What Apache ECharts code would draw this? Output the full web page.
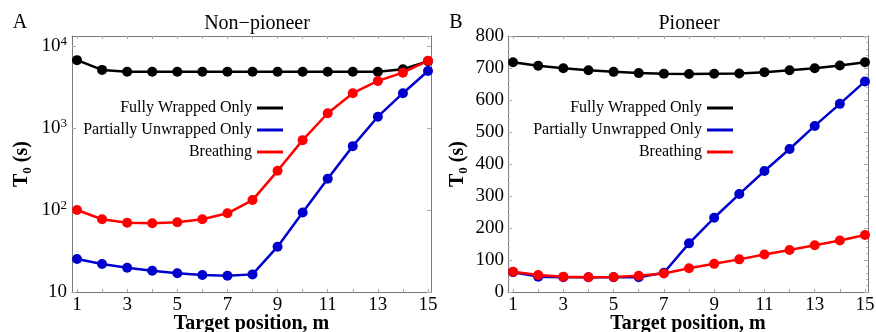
<!DOCTYPE html>
<html>
<head>
<meta charset="utf-8">
<script src="https://cdn.jsdelivr.net/npm/echarts@6/dist/echarts.min.js"></script>
<style>html,body{margin:0;padding:0;background:#fff}#c{width:876px;height:332px}</style>
</head>
<body>
<div id="c"></div>
<script>
// Target positions m
var positions = [1,2,3,4,5,6,7,8,9,10,11,12,13,14,15];
var seriesNames = ['Fully Wrapped Only','Partially Unwrapped Only','Breathing'];
var xTickValues = [1,3,5,7,9,11,13,15];
var leftYTickLabels = ['10','10^2','10^3','10^4'];
var rightYTickLabels = ['0','100','200','300','400','500','600','700','800'];

// Panel A: Non-pioneer (log scale, seconds)
var nonPioneerFully    = [6700,5100,4850,4850,4850,4850,4850,4850,4850,4850,4850,4850,4850,5200,6500];
var nonPioneerPartial  = [25.2,21.9,19.8,18.2,16.9,16.1,15.8,16.4,35.7,93,240,600,1370,2650,4950];
var nonPioneerBreath   = [100,77,70,69,71,77,91,132,300,710,1510,2650,3740,4720,6600];

// Panel B: Pioneer (linear scale, seconds)
var pioneerFully   = [718,707,699,693,688,684,682,681,682,683,687,693,699,708,718];
var pioneerPartial = [62,48,46,46,46,46,60,152,232,306,378,447,519,588,658];
var pioneerBreath  = [63,53,48,46,47,51,58,74,88,102,117,131,146,161,178];

var colors = ['#000000','#0000cc','#ff0000'];
var serif = 'Liberation Serif';
var frame = '#7a7a7a';

function pairs(vals){ return positions.map(function(x,i){ return [x, vals[i]]; }); }

function logLabel(v){
  var l = Math.log10(v), e = Math.round(l);
  if (Math.abs(l-e) > 1e-6) return '';
  var key = e===1 ? '10' : '10^'+e;
  if (leftYTickLabels.indexOf(key) < 0) return '';
  return e===1 ? '{b|10}' : '{b|10}{sup|'+e+'}';
}
function linLabel(v){
  var s = String(Math.round(v));
  return rightYTickLabels.indexOf(s)>=0 ? s : '';
}

var axisNameStyle = {
  fontFamily: serif, fontSize: 20, fontWeight: 'bold', color: '#000'
};
var yNameRich = {
  b: {fontFamily: serif, fontSize: 20, fontWeight: 'bold', color:'#000', lineHeight: 24},
  s: {fontFamily: serif, fontSize: 13, fontWeight: 'bold', color:'#000', lineHeight: 12, verticalAlign: 'bottom'}
};

function xAx(grid, pos, show){
  return {
    type: 'value', gridIndex: grid, position: pos, min: 0.8, max: 15.12,
    axisLine: {show: true, onZero: false, lineStyle: {color: frame, width: 1}},
    axisTick: {show: true, inside: true, length: 3, customValues: positions, lineStyle: {color: '#aaa'}},
    axisLabel: {show: show, margin: 4, customValues: xTickValues, fontFamily: serif, fontSize: 19, color:'#000'},
    splitLine: {show: false},
    name: show ? 'Target position, m' : '', nameLocation: 'middle', nameGap: 22, nameMoveOverlap: false,
    nameTextStyle: axisNameStyle
  };
}

var option = {
  animation: false,
  backgroundColor: '#fff',
  grid: [
    {left: 72, right: 445, top: 36, bottom: 40, outerBoundsMode: 'none', containLabel: false},
    {left: 508, right: 8, top: 36, bottom: 40, outerBoundsMode: 'none', containLabel: false}
  ],
  xAxis: [
    xAx(0,'bottom',true), xAx(0,'top',false),
    xAx(1,'bottom',true), xAx(1,'top',false)
  ],
  yAxis: [
    {
      type: 'log', logBase: 10, gridIndex: 0, position: 'left', min: 10, max: 13200,
      axisLine: {show: true, lineStyle: {color: frame}},
      axisTick: {show: true, inside: true, length: 4, lineStyle: {color: '#aaa'}},
      axisLabel: {margin: 5, formatter: logLabel, showMaxLabel: false,
        rich: {b: {fontFamily: serif, fontSize: 19, color:'#000', lineHeight: 22},
               sup: {fontFamily: serif, fontSize: 13, color:'#000', lineHeight: 12, verticalAlign: 'top'}}},
      splitLine: {show: false},
      name: '{b|T}{s|0}{b| (s)}', nameLocation: 'middle', nameGap: 38, nameRotate: 90,
      nameTextStyle: {rich: yNameRich}
    },
    {
      type: 'log', logBase: 10, gridIndex: 0, position: 'right', min: 10, max: 13200,
      axisLine: {show: true, lineStyle: {color: frame}},
      axisTick: {show: true, inside: true, length: 4, lineStyle: {color: '#aaa'}},
      axisLabel: {show: false}, splitLine: {show: false}
    },
    {
      type: 'value', gridIndex: 1, position: 'left', min: 0, max: 800, interval: 100,
      axisLine: {show: true, lineStyle: {color: frame}},
      axisTick: {show: true, inside: true, length: 4, lineStyle: {color: '#aaa'}},
      minorTick: {show: true, splitNumber: 5, length: 2, lineStyle: {color: '#bbb'}},
      axisLabel: {margin: 4, formatter: linLabel, fontFamily: serif, fontSize: 19, color: '#000'},
      splitLine: {show: false},
      name: '{b|T}{s|0}{b| (s)}', nameLocation: 'middle', nameGap: 38, nameRotate: 90,
      nameTextStyle: {rich: yNameRich}
    },
    {
      type: 'value', gridIndex: 1, position: 'right', min: 0, max: 800, interval: 100,
      axisLine: {show: true, lineStyle: {color: frame}},
      axisTick: {show: true, inside: true, length: 4, lineStyle: {color: '#aaa'}},
      minorTick: {show: true, splitNumber: 5, length: 2, lineStyle: {color: '#bbb'}},
      axisLabel: {show: false}, splitLine: {show: false}
    }
  ],
  legend: [
    {
      data: seriesNames, orient: 'vertical', align: 'right', right: 588, top: 95,
      icon: 'rect', itemWidth: 26, itemHeight: 3, itemGap: 6,
      textStyle: {fontFamily: serif, fontSize: 16, color: '#000'}, selectedMode: false
    },
    {
      data: seriesNames, orient: 'vertical', align: 'right', right: 138, top: 95,
      icon: 'rect', itemWidth: 26, itemHeight: 3, itemGap: 6,
      textStyle: {fontFamily: serif, fontSize: 16, color: '#000'}, selectedMode: false
    }
  ],
  graphic: [
    {type: 'text', x: 20, y: 23, style: {text: 'A', font: '20px "Liberation Serif"', fill: '#000', align: 'center', verticalAlign: 'middle'}},
    {type: 'text', x: 456, y: 23, style: {text: 'B', font: '20px "Liberation Serif"', fill: '#000', align: 'center', verticalAlign: 'middle'}},
    {type: 'text', x: 257, y: 24, style: {text: 'Non\u2212pioneer', font: '20px "Liberation Serif"', fill: '#000', align: 'center', verticalAlign: 'middle'}},
    {type: 'text', x: 689, y: 24, style: {text: 'Pioneer', font: '20px "Liberation Serif"', fill: '#000', align: 'center', verticalAlign: 'middle'}}
  ],
  series: []
};

var leftData = [nonPioneerFully, nonPioneerPartial, nonPioneerBreath];
var rightData = [pioneerFully, pioneerPartial, pioneerBreath];
for (var i = 0; i < 3; i++) {
  option.series.push({
    name: seriesNames[i], type: 'line', xAxisIndex: 0, yAxisIndex: 0,
    data: pairs(leftData[i]), symbol: 'circle', symbolSize: 10,
    lineStyle: {color: colors[i], width: 2.5}, itemStyle: {color: colors[i]}, z: 2 + i
  });
}
for (var j = 0; j < 3; j++) {
  option.series.push({
    name: seriesNames[j], type: 'line', xAxisIndex: 2, yAxisIndex: 2,
    data: pairs(rightData[j]), symbol: 'circle', symbolSize: 10,
    lineStyle: {color: colors[j], width: 2.5}, itemStyle: {color: colors[j]}, z: 2 + j
  });
}

var chart = echarts.init(document.getElementById('c'), null, {renderer: 'canvas'});
chart.setOption(option);
</script>
</body>
</html>
